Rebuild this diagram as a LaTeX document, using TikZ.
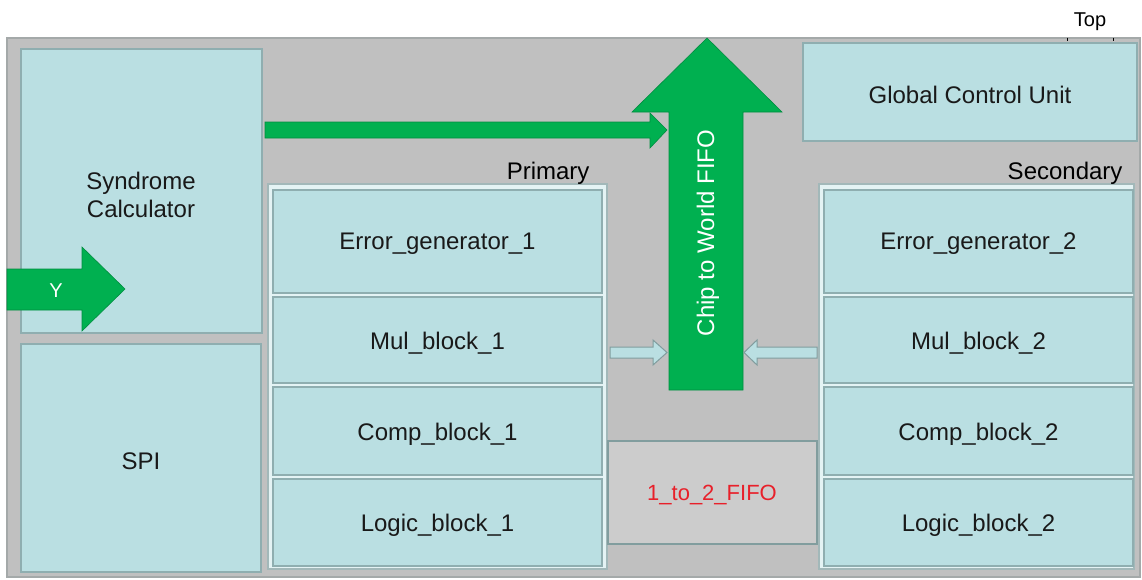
\documentclass[tikz,border=0pt]{standalone}
\usepackage{fontspec}
\setmainfont{Liberation Sans}
\begin{document}
\begin{tikzpicture}[x=1pt,y=-1pt,
  font=\fontsize{24}{28}\selectfont,
  block/.style={draw=boxline,fill=boxfill,line width=1.2pt},
  group/.style={draw=grpline,fill=grpfill,line width=1.2pt},
  greenarrow/.style={fill=arrowgreen,draw=arrowgreen!80!black,line width=0.6pt},
  lightarrow/.style={fill=boxfill,draw=boxline!90!black,line width=1pt},
  blocklabel/.style={text=black!90}
]
\definecolor{chipgray}{HTML}{C0C0C0}
\definecolor{chipline}{HTML}{A4A9A9}
\definecolor{boxfill}{HTML}{BADFE2}
\definecolor{boxline}{HTML}{8FAEB0}
\definecolor{grpfill}{HTML}{E4F3F4}
\definecolor{grpline}{HTML}{A2B8B9}
\definecolor{arrowgreen}{HTML}{00B050}
\definecolor{fifogray}{HTML}{CCCCCC}
\definecolor{fifored}{HTML}{E8202A}

\useasboundingbox (0,0) rectangle (1142,579);
\fill[white] (0,0) rectangle (1142,579);

% chip outline
\draw[fill=chipgray,draw=chipline,line width=1.5pt] (7,38) rectangle (1140,577);
\node[font=\fontsize{20}{24}\selectfont] (toplbl) at (1090,22) {Top};
\draw[line width=0.8pt] (1067,37.5) -- (1067,41) (1113,37.5) -- (1113,41);

% left column
\draw[block] (21,49) rectangle (262,333);
\node[blocklabel,align=center] (syn) at (141,195) {Syndrome\\Calculator};
\draw[block] (21,344) rectangle (261,572);
\node[blocklabel] (spi) at (141,461) {SPI};

% global control
\draw[block] (803,43) rectangle (1137,141);
\node[blocklabel] (gcu) at (970,95) {Global Control Unit};

% primary group
\draw[group] (268,184) rectangle (607,569);
\node[anchor=base east] (prim) at (593,179) {Primary};
\draw[block] (273,190) rectangle (602,293);
\node[blocklabel] (eg1) at (437.5,244) {Error\_generator\_1};
\draw[block] (273,297) rectangle (602,383);
\node[blocklabel] (mb1) at (437.5,343) {Mul\_block\_1};
\draw[block] (273,387) rectangle (602,475);
\node[blocklabel] (cb1) at (437.5,434) {Comp\_block\_1};
\draw[block] (273,479) rectangle (602,566);
\node[blocklabel] (lb1) at (437.5,525) {Logic\_block\_1};

% secondary group
\draw[group] (819,184) rectangle (1134,569);
\node[anchor=base east] (sec) at (1126,179) {Secondary};
\draw[block] (824,190) rectangle (1133,293);
\node[blocklabel] (eg2) at (978.5,244) {Error\_generator\_2};
\draw[block] (824,297) rectangle (1133,383);
\node[blocklabel] (mb2) at (978.5,343) {Mul\_block\_2};
\draw[block] (824,387) rectangle (1133,475);
\node[blocklabel] (cb2) at (978.5,434) {Comp\_block\_2};
\draw[block] (824,479) rectangle (1133,566);
\node[blocklabel] (lb2) at (978.5,525) {Logic\_block\_2};

% FIFO between the two halves
\draw[fill=fifogray,draw=boxline!90!black,line width=1.2pt] (608,441) rectangle (817,544);
\node[text=fifored,font=\fontsize{22}{26}\selectfont] (fifo) at (712,495) {1\_to\_2\_FIFO};

% input Y
\draw[greenarrow] (7,269) -- (82,269) -- (82,247) -- (125,289) -- (82,331) -- (82,310) -- (7,310) -- cycle;
\node[white,font=\fontsize{20}{24}\selectfont] (ylbl) at (56,291) {Y};

% syndrome to output
\draw[greenarrow] (265,122) -- (650,122) -- (650,113) -- (667,130) -- (650,148) -- (650,138) -- (265,138) -- cycle;

% chip to world FIFO
\draw[greenarrow] (669,390) -- (669,112) -- (632,112) -- (707,38) -- (782,112) -- (743,112) -- (743,390) -- cycle;
\node[white,rotate=90] (c2w) at (708,233) {Chip to World FIFO};

% side feeds into the output FIFO
\draw[lightarrow] (610,347) -- (653,347) -- (653,340) -- (667,352.5) -- (653,365) -- (653,358) -- (610,358) -- cycle;
\draw[lightarrow] (817,347) -- (757,347) -- (757,340) -- (744,352.5) -- (757,365) -- (757,358) -- (817,358) -- cycle;
\end{tikzpicture}
\end{document}
